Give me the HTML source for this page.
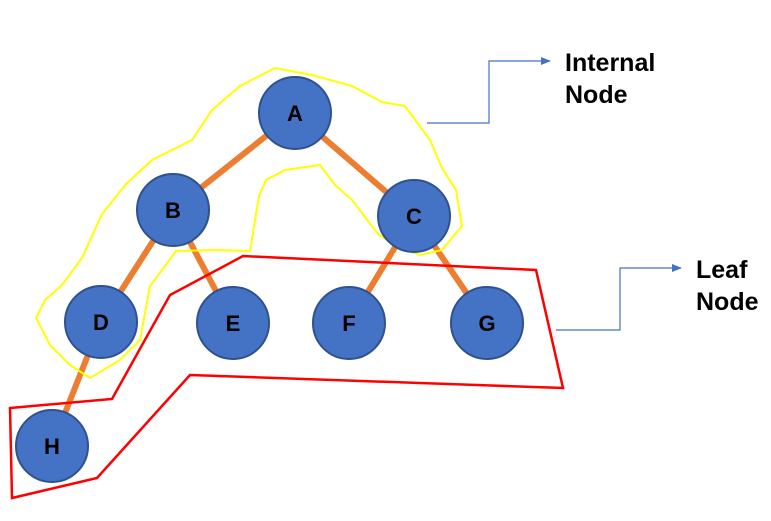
<!DOCTYPE html>
<html><head><meta charset="utf-8"><style>
html,body{margin:0;padding:0;background:#fff;width:771px;height:521px;overflow:hidden}
svg{display:block}
text{font-family:"Liberation Sans",sans-serif;font-weight:bold}
</style></head><body>
<svg width="771" height="521" viewBox="0 0 771 521" xmlns="http://www.w3.org/2000/svg">
<defs><marker id="ar" markerWidth="10" markerHeight="8" refX="9" refY="4" orient="auto" markerUnits="userSpaceOnUse"><path d="M0,0 L10,4 L0,8 Z" fill="#4472C4"/></marker></defs>
<g stroke="#ED7D31" stroke-width="6">
<line x1="295" y1="113" x2="173" y2="210"/><line x1="295" y1="113" x2="414" y2="216"/>
<line x1="173" y1="210" x2="101" y2="322"/><line x1="173" y1="210" x2="233" y2="323"/>
<line x1="414" y1="216" x2="349" y2="323"/><line x1="414" y1="216" x2="487" y2="323"/>
<line x1="101" y1="322" x2="52" y2="446"/>
</g>
<path d="M36,318 L45,300 L62,285 L82,258 L102,214 L126,184 L152,160 L192,140 L212,110 L240,86 L275,68 L312,75 L352,86 L382,102 L405,106 L430,140 L442,168 L456,190 L462,226 L442,250 L420,255 L396,246 L378,234 L352,200 L335,185 L320,165 L285,170 L266,180 L259,196 L250,251 L215,250 L176,251 L150,286 L140,340 L120,360 L90,378 L70,365 L50,345 Z" fill="none" stroke="#FFFF00" stroke-width="2"/>
<path d="M10,408 L112,399 L170,295 L243,256 L536,270 L563,388 L190,375 L97,478 L12,498 Z" fill="none" stroke="#FF0000" stroke-width="2.5"/>
<g fill="#4472C4" stroke="#2F528F" stroke-width="2">
<circle cx="295" cy="113" r="36"/><circle cx="173" cy="210" r="36"/><circle cx="414" cy="216" r="36"/>
<circle cx="101" cy="322" r="36"/><circle cx="233" cy="323" r="36"/><circle cx="349" cy="323" r="36"/>
<circle cx="487" cy="323" r="36"/><circle cx="52" cy="446" r="36"/>
</g>
<g font-size="22" text-anchor="middle" fill="#000">
<text x="295" y="121">A</text><text x="173" y="218">B</text><text x="414" y="224">C</text>
<text x="101" y="330">D</text><text x="233" y="331">E</text><text x="349" y="331">F</text>
<text x="487" y="331">G</text><text x="52" y="454">H</text>
</g>
<polyline points="427,123 489,123 489,61 550,61" fill="none" stroke="#4472C4" stroke-width="1.2" marker-end="url(#ar)"/>
<polyline points="556,330 620,330 620,268 681,268" fill="none" stroke="#4472C4" stroke-width="1.2" marker-end="url(#ar)"/>
<g font-size="25" fill="#000">
<text x="565" y="71">Internal</text><text x="565" y="103">Node</text>
<text x="696" y="278">Leaf</text><text x="696" y="310">Node</text>
</g>
</svg>
</body></html>
